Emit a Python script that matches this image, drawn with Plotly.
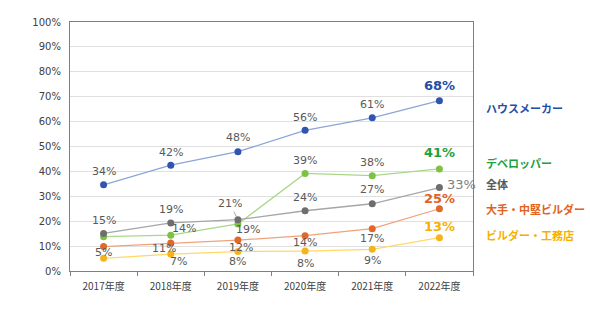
import plotly.graph_objects as go

years = ["2017年度", "2018年度", "2019年度", "2020年度", "2021年度", "2022年度"]
house = [34.6, 42.5, 47.9, 56.5, 61.5, 68.4]
developer = [13.8, 14.4, 18.9, 39.2, 38.3, 41.0]
overall = [15.1, 19.3, 20.6, 24.2, 27.0, 33.5]
big_builder = [9.8, 11.2, 12.4, 14.2, 17.0, 25.0]
builder = [5.1, 6.8, 7.8, 8.0, 8.7, 13.4]

names = ["ハウスメーカー", "デベロッパー", "全体", "大手・中堅ビルダー", "ビルダー・工務店"]
series = [house, developer, overall, big_builder, builder]
line_colors = ["#8EA5D8", "#A9D88A", "#A6A6A6", "#F0A27A", "#FFD966"]
marker_colors = ["#2F55B0", "#7DC242", "#6E6E6E", "#E2682A", "#F6B41C"]
name_colors = ["#1F4EA8", "#1FA040", "#595959", "#E2621F", "#F5B000"]

# label text for points 0..4 (None = hidden) and offset styles
label_text = [
    ["34%", "42%", "48%", "56%", "61%"],
    [None, "14%", "19%", "39%", "38%"],
    ["15%", "19%", "21%", "24%", "27%"],
    [None, "11%", "12%", "14%", "17%"],
    ["5%", "7%", "8%", "8%", "9%"],
]
label_shift = [
    [(0, 13), (0, 13), (0, 14), (0, 13), (0, 13)],
    [None, (13, 7), (10, -6), (0, 13), (0, 13)],
    [(0, 13), (0, 13), None, (0, 13), (0, 14)],
    [None, (-7, -5), (3, -7), (0, -7), (0, -10)],
    [(0, 6), (8, -7), (0, -10), (0, -12), (0, -11)],
]
final_text = ["68%", "41%", "33%", "25%", "13%"]
final_shift = [(0, 15), (0, 16), (22, 3), (0, 10), (0, 11)]
name_shift = [-7, 6, 4, 0, 3]

fig = go.Figure()
for s, lc, mc, nm in zip(series, line_colors, marker_colors, names):
    fig.add_trace(go.Scatter(
        x=years, y=s, mode="lines+markers", name=nm,
        line=dict(color=lc, width=1.3),
        marker=dict(color=mc, size=7),
        showlegend=False, hoverinfo="skip",
    ))

lab_font = dict(family="DejaVu Sans", size=11, color="#595959")
annotations = []
for i, s in enumerate(series):
    for j in range(5):
        t = label_text[i][j]
        if t is None:
            continue
        sh = label_shift[i][j]
        if sh is None:
            # label with leader line
            annotations.append(dict(
                x=years[j], y=s[j], xref="x", yref="y", text=t, showarrow=True,
                ax=-8, ay=-16, arrowhead=0, arrowwidth=1, arrowcolor="#A6A6A6",
                standoff=3, font=lab_font,
            ))
            continue
        dx, dy = sh
        annotations.append(dict(
            x=years[j], y=s[j], xref="x", yref="y", text=t, showarrow=False,
            xshift=dx, yshift=dy, font=lab_font,
        ))
    dx, dy = final_shift[i]
    if i == 2:
        txt = final_text[i]
        ff = dict(family="DejaVu Sans", size=13, color="#7F7F7F")
    else:
        txt = "<b>%s</b>" % final_text[i]
        ff = dict(family="DejaVu Sans", size=13, color=name_colors[i])
    annotations.append(dict(
        x=years[5], y=s[5], xref="x", yref="y", text=txt,
        showarrow=False, xshift=dx, yshift=dy, font=ff,
    ))
    annotations.append(dict(
        x=1.028, xref="paper", y=s[5], yref="y", text="<b>%s</b>" % names[i],
        showarrow=False, xanchor="left", yshift=name_shift[i],
        font=dict(family="Noto Sans CJK JP", size=11, color=name_colors[i]),
    ))

fig.update_layout(
    width=590, height=321,
    margin=dict(l=70, r=117, t=22, b=50),
    paper_bgcolor="white", plot_bgcolor="white",
    annotations=annotations,
    xaxis=dict(
        type="category", tickson="boundaries", ticks="outside", ticklen=4,
        tickcolor="#7F7F7F", showline=True, linecolor="#7F7F7F", linewidth=1.2,
        mirror=True, showgrid=False, ticklabelstandoff=6,
        tickfont=dict(family="Noto Sans CJK JP", size=10, color="#404040"),
        range=[-0.5, 5.5],
    ),
    yaxis=dict(
        range=[0, 100], dtick=10, ticksuffix="%", showgrid=True,
        gridcolor="#E0E0E0", gridwidth=1, zeroline=False,
        showline=True, linecolor="#7F7F7F", linewidth=1.2, mirror=True,
        ticks="", ticklabelstandoff=6,
        tickfont=dict(family="DejaVu Sans", size=10, color="#404040"),
    ),
)

fig.write_html("out.html")
